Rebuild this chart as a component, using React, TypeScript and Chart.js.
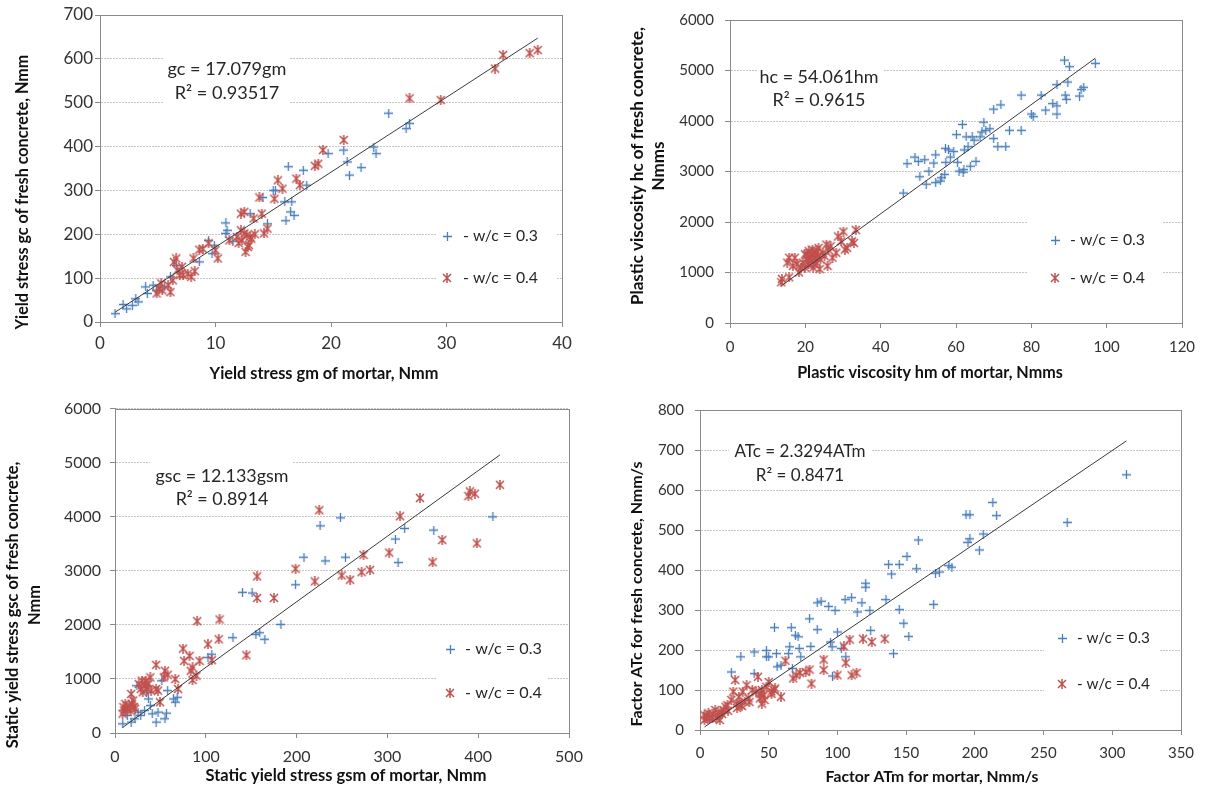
import React, { useEffect, useRef } from 'react';
import { Chart, registerables } from 'chart.js';

Chart.register(...registerables);

const FONT = 'Lato, "Open Sans", "DejaVu Sans", sans-serif';
const BLUE = '#4a7ebb';
const RED = '#c0504d';
const AXIS = '#8a8a8a';
const GRID = '#c6c6c6';
const TEXT = '#262626';

const seriesLabels = ['w/c = 0.3', 'w/c = 0.4'];

// ---- Panel A: yield stress ----
const yieldM03 = [1.3, 2.0, 2.3, 2.8, 3.1, 3.3, 3.95, 4.1, 4.6, 4.9, 5.6, 6.1, 6.6, 8.6, 9.4, 9.7, 9.9, 10.9, 10.9, 11.0, 11.5, 13.0, 14.1, 14.5, 15.0, 15.2, 16.0, 16.1, 16.3, 16.5, 16.6, 16.8, 17.6, 17.9, 19.75, 21.1, 21.4, 21.6, 22.6, 23.7, 23.9, 25.0, 26.5, 26.8];
const yieldC03 = [19, 40, 30, 38, 53, 46, 80, 65, 84, 72, 80, 103, 129, 137, 186, 156, 175, 226, 202, 209, 184, 247, 284, 224, 300, 300, 274, 231, 354, 251, 274, 243, 346, 312, 384, 392, 365, 335, 352, 399, 384, 476, 441, 453];
const yieldM04 = [4.9, 5.1, 5.3, 5.4, 5.9, 6.1, 6.3, 6.4, 6.6, 6.7, 6.9, 7.1, 7.2, 7.6, 7.9, 8.1, 8.2, 8.6, 8.9, 9.4, 10.0, 10.2, 11.2, 11.85, 12.2, 12.2, 12.3, 12.5, 12.7, 12.8, 13.0, 12.5, 13.3, 13.8, 14.0, 14.2, 14.5, 15.1, 15.4, 15.8, 17.0, 17.3, 18.6, 18.9, 19.3, 21.1, 26.8, 29.5, 34.2, 34.9, 37.2, 37.9, 12.0, 12.6, 13.1, 13.4, 12.9];
const yieldC04 = [65, 76, 88, 72, 84, 68, 95, 137, 145, 118, 107, 126, 107, 110, 103, 145, 116, 165, 167, 179, 164, 145, 186, 194, 209, 247, 186, 202, 198, 171, 194, 251, 236, 284, 247, 202, 213, 281, 323, 304, 327, 312, 356, 361, 392, 415, 510, 506, 578, 609, 613, 620, 180, 160, 190, 200, 175];
const yieldSlope = 17.079;
const yieldEq = ['gc = 17.079gm', 'R\u00b2 = 0.93517'];

// ---- Panel B: plastic viscosity ----
const viscM03 = [46.0, 47.0, 49.1, 50.0, 50.4, 51.7, 52.1, 52.8, 54.1, 54.6, 54.6, 55.9, 56.2, 57.0, 57.2, 57.3, 58.0, 58.5, 59.4, 60.1, 60.4, 60.8, 61.7, 61.9, 62.1, 62.2, 62.7, 63.2, 63.8, 64.3, 64.8, 65.3, 66.4, 66.9, 67.4, 67.9, 69.0, 70.0, 70.0, 71.1, 71.9, 73.2, 74.2, 77.3, 77.3, 80.0, 80.5, 82.6, 83.8, 85.7, 86.8, 86.8, 86.8, 88.8, 89.0, 89.3, 89.7, 90.1, 92.8, 93.2, 93.9, 97.0];
const viscC03 = [2574, 3155, 3285, 3200, 2897, 3233, 2748, 3007, 3168, 3330, 2780, 2813, 2877, 2942, 3459, 3181, 3427, 3285, 3395, 3731, 3181, 3007, 3931, 2987, 3039, 3427, 3686, 3492, 3104, 3686, 3621, 3201, 3686, 3783, 3977, 3815, 3847, 3653, 4235, 3492, 4319, 3492, 3815, 3815, 4513, 4138, 4086, 4513, 4216, 4345, 4300, 4138, 4720, 5205, 4513, 4429, 4772, 5076, 4494, 4623, 4668, 5140];
const viscM04 = [13.6, 13.8, 15.7, 15.2, 15.7, 16.7, 17.2, 17.8, 18.3, 18.8, 19.3, 19.9, 19.9, 20.4, 20.7, 20.9, 21.1, 21.4, 21.7, 21.9, 22.1, 22.5, 22.8, 23.0, 23.3, 23.5, 23.8, 24.0, 24.6, 25.1, 25.6, 26.1, 26.7, 27.2, 28.2, 28.7, 29.5, 30.1, 30.5, 31.1, 32.4, 32.9, 33.4, 20.4, 20.9, 21.9, 22.5, 23.0, 25.9];
const viscC04 = [808, 873, 905, 1196, 1293, 1132, 1293, 1164, 1002, 1099, 1196, 1358, 1099, 1261, 1164, 1423, 1293, 1358, 1229, 1455, 1099, 1293, 1390, 1196, 1326, 1487, 1067, 1261, 1390, 1326, 1552, 1455, 1520, 1293, 1390, 1713, 1616, 1810, 1455, 1487, 1616, 1584, 1843, 1358, 1164, 1358, 1164, 1423, 1132];
const viscSlope = 54.061;
const viscEq = ['hc = 54.061hm', 'R\u00b2 = 0.9615'];

// ---- Panel C: static yield stress ----
const staticM03 = [8.5, 11.4, 13.5, 17.8, 22.0, 24.1, 25.4, 28.3, 32.6, 34.7, 36.8, 38.9, 41.0, 45.3, 47.4, 51.6, 55.0, 56.7, 58.0, 64.3, 66.4, 68.5, 102.4, 106.6, 129.9, 140.4, 151.0, 155.2, 159.4, 165.0, 182.7, 198.8, 208.1, 225.9, 231.4, 248.3, 253.8, 308.8, 311.8, 319.0, 351.1, 416.2];
const staticC03 = [171, 416, 324, 202, 263, 875, 386, 324, 416, 753, 631, 508, 355, 202, 386, 967, 263, 367, 784, 631, 569, 661, 1396, 1457, 1763, 2602, 2590, 1824, 1855, 1733, 2008, 2743, 3251, 3832, 3183, 3979, 3251, 3588, 3153, 3783, 3753, 3998];
const staticM04 = [8.3, 9.3, 10.2, 11.4, 13.5, 15.7, 16.9, 17.8, 18.6, 19.9, 21.1, 22.0, 26.2, 28.3, 29.6, 30.5, 32.6, 33.8, 35.5, 36.8, 38.9, 39.8, 45.3, 45.3, 47.4, 49.5, 53.7, 55.0, 58.0, 66.4, 69.4, 74.9, 76.1, 82.1, 83.4, 85.4, 85.4, 89.7, 90.5, 93.1, 102.4, 106.6, 114.2, 115.1, 144.7, 156.5, 156.5, 175.1, 198.8, 220.0, 225.0, 249.6, 258.9, 271.6, 273.7, 280.9, 302.0, 313.9, 335.9, 349.8, 360.4, 389.2, 390.9, 396.4, 398.5, 423.9];
const staticC04 = [355, 478, 416, 539, 447, 508, 416, 722, 539, 600, 478, 447, 906, 814, 967, 753, 875, 967, 814, 906, 1028, 784, 1261, 814, 784, 569, 1028, 1151, 1077, 998, 814, 1561, 1335, 1426, 1151, 1212, 980, 1059, 2069, 1335, 1641, 1347, 1733, 2100, 1439, 2896, 2498, 2498, 3037, 2804, 4120, 2914, 2835, 2975, 3294, 3018, 3337, 4010, 4347, 3159, 3569, 4383, 4469, 4426, 3508, 4591];
const staticSlope = 12.133;
const staticEq = ['gsc = 12.133gsm', 'R\u00b2 = 0.8914'];

// ---- Panel D: factor AT ----
const atM03 = [22.8, 29.7, 39.4, 39.4, 48.3, 48.3, 50.0, 54.2, 55.6, 56.1, 58.9, 64.4, 65.3, 66.4, 67.2, 69.4, 71.4, 72.2, 73.3, 79.7, 80.6, 85.3, 85.3, 88.1, 93.6, 95.0, 96.1, 96.4, 98.3, 100.0, 102.8, 105.6, 106.1, 110.3, 114.4, 117.8, 120.6, 120.6, 123.6, 124.2, 135.3, 137.2, 139.4, 140.8, 145.0, 145.0, 148.3, 150.6, 151.9, 157.5, 158.9, 170.0, 171.4, 174.2, 181.1, 183.3, 193.6, 196.4, 195.0, 196.4, 203.3, 206.1, 213.1, 215.8, 267.2, 310.3];
const atC03 = [145, 183, 195, 141, 199, 183, 183, 256, 191, 158, 162, 191, 208, 256, 154, 237, 233, 204, 183, 278, 209, 251, 318, 322, 309, 220, 208, 135, 299, 245, 204, 326, 183, 331, 295, 318, 357, 367, 299, 249, 326, 414, 390, 191, 414, 301, 267, 434, 234, 403, 475, 314, 392, 395, 411, 407, 538, 538, 469, 478, 450, 490, 569, 536, 519, 638];
const atM04 = [3.3, 3.3, 4.7, 6.1, 8.9, 11.1, 13.1, 14.4, 15.0, 17.2, 18.6, 20.0, 22.8, 24.2, 25.6, 26.9, 28.3, 29.7, 31.1, 32.5, 33.9, 35.3, 38.1, 40.8, 42.2, 43.6, 45.0, 45.0, 46.4, 48.3, 50.0, 51.9, 53.9, 54.7, 58.9, 62.2, 67.8, 70.0, 72.8, 76.9, 79.7, 81.1, 90.0, 90.0, 100.0, 104.7, 106.1, 108.9, 110.3, 113.9, 118.6, 125.0, 134.4, 5.0, 7.0, 9.5, 12.0, 16.0, 20.5, 27.0, 30.5, 36.0, 44.0, 47.0, 52.0];
const atC04 = [25, 37, 29, 42, 29, 50, 37, 25, 46, 50, 58, 62, 75, 96, 125, 66, 83, 62, 96, 71, 112, 79, 100, 96, 133, 79, 100, 66, 87, 108, 120, 96, 100, 104, 83, 173, 129, 137, 143, 145, 151, 116, 176, 150, 137, 209, 168, 226, 137, 143, 228, 220, 228, 35, 30, 40, 30, 40, 48, 55, 60, 70, 90, 75, 90];
const atSlope = 2.3294;
const atEq = ['ATc = 2.3294ATm', 'R\u00b2 = 0.8471'];

interface PanelDef {
  left: number; top: number; w: number; h: number;
  area: { l: number; r: number; t: number; b: number };
  x03: number[]; y03: number[]; x04: number[]; y04: number[]; slope: number;
  xMax: number; xStep: number; yMax: number; yStep: number;
  tickSize: number; xTickPad: number; yTickPad: number;
  xTitle: string; xT: { x: number; y: number; w: number };
  yTitle: string[]; yT: { x: number; y: number; len: number; gap: number };
  eq: string[]; eqT: { cx: number; y1: number; y2: number; w: number }; eqBox: number[];
  lg: { mx: number; y1: number; y2: number; tx: number; tw: number }; lgBox: number[];
}

const panels: PanelDef[] = [
  {
    left: 0, top: 0, w: 606, h: 390, area: { l: 100, r: 562, t: 15, b: 322 },
    x03: yieldM03, y03: yieldC03, x04: yieldM04, y04: yieldC04, slope: yieldSlope,
    xMax: 40, xStep: 10, yMax: 700, yStep: 100, tickSize: 17, xTickPad: 6, yTickPad: 2,
    xTitle: 'Yield stress gm of mortar, Nmm', xT: { x: 324, y: 374, w: 229 },
    yTitle: ['Yield stress gc of fresh concrete, Nmm'], yT: { x: 23, y: 192, len: 275, gap: 20 },
    eq: yieldEq, eqT: { cx: 227, y1: 69, y2: 93, w: 119 }, eqBox: [163, 50, 290, 110],
    lg: { mx: 447, y1: 236, y2: 278, tx: 463, tw: 75 }, lgBox: [436, 220, 556, 295],
  },
  {
    left: 606, top: 0, w: 607, h: 390, area: { l: 124, r: 576, t: 14, b: 323 },
    x03: viscM03, y03: viscC03, x04: viscM04, y04: viscC04, slope: viscSlope,
    xMax: 120, xStep: 20, yMax: 6000, yStep: 1000, tickSize: 15, xTickPad: 10, yTickPad: 11,
    xTitle: 'Plastic viscosity hm of mortar, Nmms', xT: { x: 324, y: 373, w: 266 },
    yTitle: ['Plastic viscosity hc of fresh concrete,', 'Nmms'], yT: { x: 32, y: 166, len: 278, gap: 21 },
    eq: viscEq, eqT: { cx: 213, y1: 77, y2: 100, w: 119 }, eqBox: [151, 55, 277, 113],
    lg: { mx: 449, y1: 240, y2: 278, tx: 464, tw: 75 }, lgBox: [421, 212, 557, 293],
  },
  {
    left: 0, top: 390, w: 606, h: 398, area: { l: 115, r: 569, t: 16, b: 343 },
    x03: staticM03, y03: staticC03, x04: staticM04, y04: staticC04, slope: staticSlope,
    xMax: 500, xStep: 100, yMax: 6000, yStep: 1000, tickSize: 16, xTickPad: 9, yTickPad: 9,
    xTitle: 'Static yield stress gsm of mortar, Nmm', xT: { x: 346, y: 386, w: 281 },
    yTitle: ['Static yield stress gsc of fresh concrete,', 'Nmm'], yT: { x: 13, y: 215, len: 287, gap: 22 },
    eq: staticEq, eqT: { cx: 222, y1: 86, y2: 109, w: 133 }, eqBox: [150, 62, 292, 118],
    lg: { mx: 450, y1: 259, y2: 303, tx: 465, tw: 77 }, lgBox: [437, 242, 548, 322],
  },
  {
    left: 606, top: 390, w: 607, h: 398, area: { l: 94, r: 575, t: 19, b: 340 },
    x03: atM03, y03: atC03, x04: atM04, y04: atC04, slope: atSlope,
    xMax: 350, xStep: 50, yMax: 800, yStep: 100, tickSize: 15, xTickPad: 9, yTickPad: 11,
    xTitle: 'Factor ATm for mortar, Nmm/s', xT: { x: 326, y: 387, w: 213 },
    yTitle: ['Factor ATc for fresh concrete, Nmm/s'], yT: { x: 31, y: 204, len: 265, gap: 20 },
    eq: atEq, eqT: { cx: 194, y1: 62, y2: 86, w: 131 }, eqBox: [123, 45, 265, 96],
    lg: { mx: 456, y1: 248, y2: 294, tx: 471, tw: 73 }, lgBox: [438, 230, 554, 312],
  },
];

function makeMarker(kind: 'plus' | 'star', color: string, size: number, lw: number): HTMLCanvasElement {
  const c = document.createElement('canvas');
  c.width = size; c.height = size;
  const g = c.getContext('2d')!;
  g.strokeStyle = color; g.lineWidth = lw;
  const m = size / 2;
  g.beginPath();
  if (kind === 'plus') {
    g.moveTo(m, 0); g.lineTo(m, size);
    g.moveTo(0, m); g.lineTo(size, m);
  } else {
    g.moveTo(1, 1); g.lineTo(size - 1, size - 1);
    g.moveTo(size - 1, 1); g.lineTo(1, size - 1);
    g.moveTo(m, 0); g.lineTo(m, size);
  }
  g.stroke();
  return c;
}

function fitFont(ctx: CanvasRenderingContext2D, text: string, weight: string, target: number) {
  ctx.font = `${weight} 100px ${FONT}`;
  const w = ctx.measureText(text).width;
  return `${weight} ${(100 * target / w).toFixed(2)}px ${FONT}`;
}

function decor(d: PanelDef, plus: HTMLCanvasElement, star: HTMLCanvasElement) {
  return {
    id: 'decor',
    beforeDatasetsDraw(chart: any) {
      const ctx: CanvasRenderingContext2D = chart.ctx;
      const a = chart.chartArea;
      ctx.save();
      ctx.strokeStyle = AXIS; ctx.lineWidth = 1;
      ctx.strokeRect(Math.round(a.left) + 0.5, Math.round(a.top) + 0.5, Math.round(a.right - a.left), Math.round(a.bottom - a.top));
      // equation label
      const [ex1, ey1, ex2, ey2] = d.eqBox;
      ctx.fillStyle = '#ffffff';
      ctx.fillRect(ex1, ey1, ex2 - ex1, ey2 - ey1);
      ctx.fillStyle = TEXT; ctx.textAlign = 'center'; ctx.textBaseline = 'middle';
      ctx.font = fitFont(ctx, d.eq[0], 'normal', d.eqT.w);
      ctx.fillText(d.eq[0], d.eqT.cx, d.eqT.y1);
      ctx.fillText(d.eq[1], d.eqT.cx, d.eqT.y2);
      // legend
      const [lx1, ly1, lx2, ly2] = d.lgBox;
      ctx.fillStyle = '#ffffff';
      ctx.fillRect(lx1, ly1, lx2 - lx1, ly2 - ly1);
      ctx.drawImage(plus, Math.round(d.lg.mx - plus.width / 2), Math.round(d.lg.y1 - plus.height / 2));
      ctx.drawImage(star, Math.round(d.lg.mx - star.width / 2), Math.round(d.lg.y2 - star.height / 2));
      const t1 = '- ' + seriesLabels[0];
      const t2 = '- ' + seriesLabels[1];
      ctx.fillStyle = TEXT; ctx.textAlign = 'left';
      ctx.font = fitFont(ctx, t1, 'normal', d.lg.tw);
      ctx.fillText(t1, d.lg.tx, d.lg.y1);
      ctx.fillText(t2, d.lg.tx, d.lg.y2);
      ctx.restore();
    },
    afterDraw(chart: any) {
      const ctx: CanvasRenderingContext2D = chart.ctx;
      ctx.save();
      ctx.fillStyle = '#111111'; ctx.textAlign = 'center'; ctx.textBaseline = 'middle';
      ctx.font = fitFont(ctx, d.xTitle, 'bold', d.xT.w);
      ctx.fillText(d.xTitle, d.xT.x, d.xT.y);
      ctx.font = fitFont(ctx, d.yTitle[0], 'bold', d.yT.len);
      d.yTitle.forEach((line, i) => {
        ctx.save();
        ctx.translate(d.yT.x + i * d.yT.gap, d.yT.y);
        ctx.rotate(-Math.PI / 2);
        ctx.fillText(line, 0, 0);
        ctx.restore();
      });
      ctx.restore();
    },
  };
}

function Panel({ d }: { d: PanelDef }) {
  const ref = useRef<HTMLCanvasElement>(null);
  useEffect(() => {
    const plus = makeMarker('plus', BLUE, 9, 1.3);
    const star = makeMarker('star', RED, 10, 1.5);
    const allX = [...d.x03, ...d.x04];
    const xmin = Math.min(...allX);
    const xmax = Math.max(...allX);
    const tickFont = { family: FONT, size: d.tickSize };
    const chart = new Chart(ref.current!, {
      type: 'scatter',
      data: {
        datasets: [
          {
            label: seriesLabels[0],
            data: d.x03.map((x, i) => ({ x, y: d.y03[i] })),
            pointStyle: plus as any, pointRadius: 5, borderColor: BLUE, backgroundColor: BLUE, order: 2,
          },
          {
            label: seriesLabels[1],
            data: d.x04.map((x, i) => ({ x, y: d.y04[i] })),
            pointStyle: star as any, pointRadius: 5, borderColor: RED, backgroundColor: RED, order: 1,
          },
          {
            type: 'line' as any,
            label: 'trend',
            data: [{ x: xmin, y: d.slope * xmin }, { x: xmax, y: d.slope * xmax }],
            borderColor: '#3a3a3a', borderWidth: 1, pointRadius: 0, showLine: true, fill: false, order: 0,
          } as any,
        ],
      },
      options: {
        responsive: false,
        animation: false,
        devicePixelRatio: 1,
        events: [],
        layout: { padding: { left: 0, top: d.area.t, right: d.w - d.area.r, bottom: 0 } },
        plugins: { legend: { display: false }, tooltip: { enabled: false }, title: { display: false } },
        scales: {
          x: {
            type: 'linear', min: 0, max: d.xMax,
            ticks: { stepSize: d.xStep, font: tickFont, color: '#333333', padding: d.xTickPad, maxRotation: 0, autoSkip: false, format: { useGrouping: false } },
            grid: { display: true, drawOnChartArea: false, drawTicks: true, tickLength: 5, color: AXIS, tickColor: AXIS },
            border: { display: true, color: AXIS, width: 1 },
            title: { display: false },
            afterFit: (s: any) => { s.height = d.h - d.area.b; },
          },
          y: {
            type: 'linear', min: 0, max: d.yMax,
            ticks: { stepSize: d.yStep, font: tickFont, color: '#333333', padding: d.yTickPad, autoSkip: false, format: { useGrouping: false } },
            grid: { display: true, drawOnChartArea: true, drawTicks: true, tickLength: 5, color: GRID, tickColor: AXIS, lineWidth: 1 },
            border: { display: true, color: AXIS, width: 1, dash: [2, 1] },
            title: { display: false },
            afterFit: (s: any) => { s.width = d.area.l; },
          },
        },
      } as any,
      plugins: [decor(d, plus, star)],
    });
    return () => chart.destroy();
  }, [d]);
  return (
    <canvas
      ref={ref}
      width={d.w}
      height={d.h}
      style={{ position: 'absolute', left: d.left, top: d.top, width: d.w, height: d.h }}
    />
  );
}

export default function App() {
  return (
    <div style={{ position: 'absolute', left: 0, top: 0, width: 1213, height: 788, background: '#ffffff', overflow: 'hidden' }}>
      {panels.map((d, i) => (
        <Panel key={i} d={d} />
      ))}
    </div>
  );
}
